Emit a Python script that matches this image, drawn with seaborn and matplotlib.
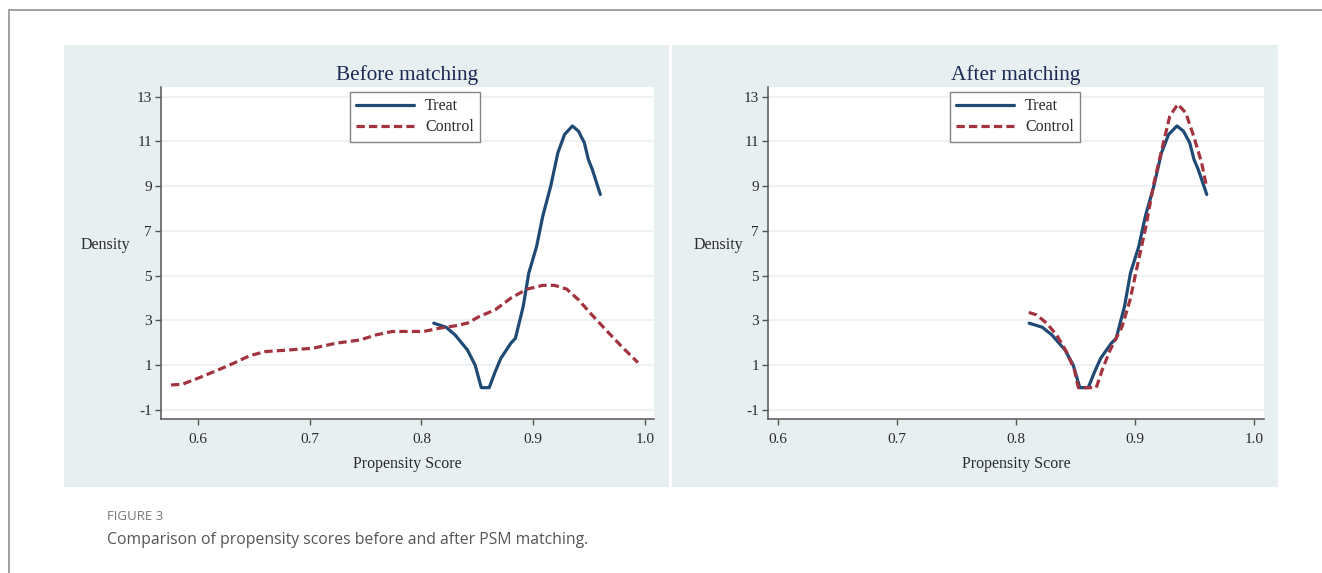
import numpy as np
import pandas as pd
import matplotlib
matplotlib.use("Agg")
import matplotlib.pyplot as plt
from matplotlib.lines import Line2D
from matplotlib.patches import Rectangle
import seaborn as sns

# ---- data -------------------------------------------------------------
treat_x = [0.811, 0.822, 0.830, 0.841, 0.848, 0.8535, 0.8606, 0.866, 0.871,
           0.880, 0.884, 0.891, 0.896, 0.903, 0.9085, 0.9156, 0.922, 0.928,
           0.935, 0.9404, 0.9457, 0.9493, 0.9528, 0.960]
treat_y = [2.88, 2.70, 2.36, 1.69, 1.01, 0.0, 0.0, 0.72, 1.31,
           1.99, 2.20, 3.63, 5.12, 6.31, 7.66, 9.00, 10.49, 11.31,
           11.69, 11.46, 10.94, 10.19, 9.75, 8.63]

ctrl_before_x = [0.576, 0.586, 0.600, 0.618, 0.632, 0.646, 0.660, 0.6745,
                 0.7028, 0.724, 0.745, 0.7596, 0.7738, 0.788, 0.802, 0.8163,
                 0.830, 0.841, 0.8518, 0.866, 0.880, 0.8943, 0.9085, 0.919,
                 0.930, 0.9404, 0.951, 0.965, 0.979, 0.9936]
ctrl_before_y = [0.12, 0.15, 0.42, 0.79, 1.09, 1.42, 1.61, 1.66,
                 1.76, 1.99, 2.13, 2.36, 2.51, 2.51, 2.51, 2.66,
                 2.76, 2.88, 3.18, 3.48, 4.00, 4.40, 4.57, 4.57,
                 4.40, 3.93, 3.33, 2.58, 1.84, 1.12]

ctrl_after_x = [0.8107, 0.8173, 0.8257, 0.834, 0.8423, 0.849, 0.8523, 0.8673,
                0.8723, 0.879, 0.889, 0.8957, 0.9023, 0.909, 0.9157, 0.9223,
                0.929, 0.9357, 0.9423, 0.949, 0.9557, 0.9597]
ctrl_after_y = [3.36, 3.25, 2.88, 2.36, 1.61, 0.79, 0.0, 0.0,
                0.79, 1.69, 2.73, 3.93, 5.57, 7.21, 9.15, 10.64,
                12.13, 12.66, 12.28, 11.24, 10.04, 9.00]

panel_titles = ["Before matching", "After matching"]
group_labels = ["Treat", "Control"]
y_ticks = [-1, 1, 3, 5, 7, 9, 11, 13]
x_ticks = [0.6, 0.7, 0.8, 0.9, 1.0]

# ---- style ------------------------------------------------------------
sns.set_style("white")
plt.rcParams["font.family"] = ["Liberation Serif", "DejaVu Serif"]

TREAT_COLOR = "#1e4a74"
CTRL_COLOR = "#a3343f"
PANEL_BG = "#e8eff1"
TEXT_COLOR = "#2b2b2b"

fig = plt.figure(figsize=(13.22, 5.73), dpi=100)
W, H = 1322, 573


def fx(px):
    return px / W


def fy(py):
    return 1 - py / H


# outer frame lines
fig.add_artist(Line2D([fx(9), 1.0], [fy(10), fy(10)], color="#a0a0a0", lw=1.4))
fig.add_artist(Line2D([fx(9), fx(9)], [fy(10), 0.0], color="#a0a0a0", lw=1.4))

# panel backgrounds
for x0, x1 in [(64, 669), (672, 1278)]:
    fig.add_artist(Rectangle((fx(x0), fy(487)), fx(x1 - x0), (487 - 45) / H,
                             facecolor=PANEL_BG, edgecolor="none", zorder=0))

axes_px = [(161, 654, 0.567, 1.008), (768, 1264, 0.592, 1.008)]
legend_cx = [415, 1015]

frames = [
    pd.DataFrame({"score": treat_x + ctrl_before_x,
                  "density": treat_y + ctrl_before_y,
                  "group": ["Treat"] * len(treat_x) + ["Control"] * len(ctrl_before_x)}),
    pd.DataFrame({"score": treat_x + ctrl_after_x,
                  "density": treat_y + ctrl_after_y,
                  "group": ["Treat"] * len(treat_x) + ["Control"] * len(ctrl_after_x)}),
]

for i, df in enumerate(frames):
    x0, x1, xmin, xmax = axes_px[i]
    ax = fig.add_axes([fx(x0), fy(419), fx(x1 - x0), (419 - 87) / H])
    ax.set_facecolor("white")

    sns.lineplot(data=df, x="score", y="density", hue="group", style="group",
                 hue_order=group_labels, style_order=group_labels,
                 palette={"Treat": TREAT_COLOR, "Control": CTRL_COLOR},
                 dashes={"Treat": "", "Control": (2.6, 1.3)},
                 estimator=None, sort=False, linewidth=2.3, ax=ax,
                 legend=False, zorder=3)

    ax.set_xlim(xmin, xmax)
    ax.set_ylim(-1.40, 13.43)
    ax.set_xticks(x_ticks)
    ax.set_xticklabels([f"{t:.1f}" for t in x_ticks])
    ax.set_yticks(y_ticks)
    ax.set_yticklabels([str(t) for t in y_ticks])

    ax.grid(axis="y", color="#edf2f4", lw=1.6, zorder=0)
    ax.grid(axis="x", visible=False)
    for s in ["top", "right"]:
        ax.spines[s].set_visible(False)
    for s in ["left", "bottom"]:
        ax.spines[s].set_color("#555555")
        ax.spines[s].set_linewidth(1.1)
    ax.tick_params(axis="x", direction="out", length=4, width=1,
                   color="#555555", labelsize=11, labelcolor=TEXT_COLOR,
                   pad=6, bottom=True)
    ax.tick_params(axis="y", direction="out", length=4, width=1,
                   color="#555555", labelsize=11, labelcolor=TEXT_COLOR,
                   pad=2.5, left=True)

    ax.set_xlabel("Propensity Score", fontsize=11.5, color=TEXT_COLOR, labelpad=7)
    ax.set_ylabel("Density", fontsize=11.5, color=TEXT_COLOR, rotation=0,
                  labelpad=0)
    ax.yaxis.set_label_coords(-0.113 if i == 0 else -0.1, 0.5)
    ax.set_title(panel_titles[i], fontsize=15.3, color="#1c2a55", pad=5)

    handles = [
        Line2D([], [], color=TREAT_COLOR, lw=2.3),
        Line2D([], [], color=CTRL_COLOR, lw=2.3, dashes=(2.6, 1.3)),
    ]
    leg = ax.legend(handles, group_labels, loc="upper center",
                    bbox_to_anchor=((legend_cx[i] - x0) / (x1 - x0), 0.985),
                    fontsize=11.5, frameon=True, fancybox=False,
                    handlelength=3.6, handletextpad=0.7, borderpad=0.4,
                    labelspacing=0.3, borderaxespad=0)
    leg.get_frame().set_edgecolor("#666666")
    leg.get_frame().set_linewidth(1.0)
    for t in leg.get_texts():
        t.set_color(TEXT_COLOR)

# caption
fig.text(fx(107), fy(517), "FIGURE 3", fontsize=9.5, color="#777777",
         family=["Open Sans", "DejaVu Sans"], va="center", ha="left")
fig.text(fx(107), fy(540), "Comparison of propensity scores before and after PSM matching.",
         fontsize=11.3, color="#555555", family=["Open Sans", "DejaVu Sans"],
         va="center", ha="left")

fig.savefig("out.png", dpi=100, facecolor="white")
